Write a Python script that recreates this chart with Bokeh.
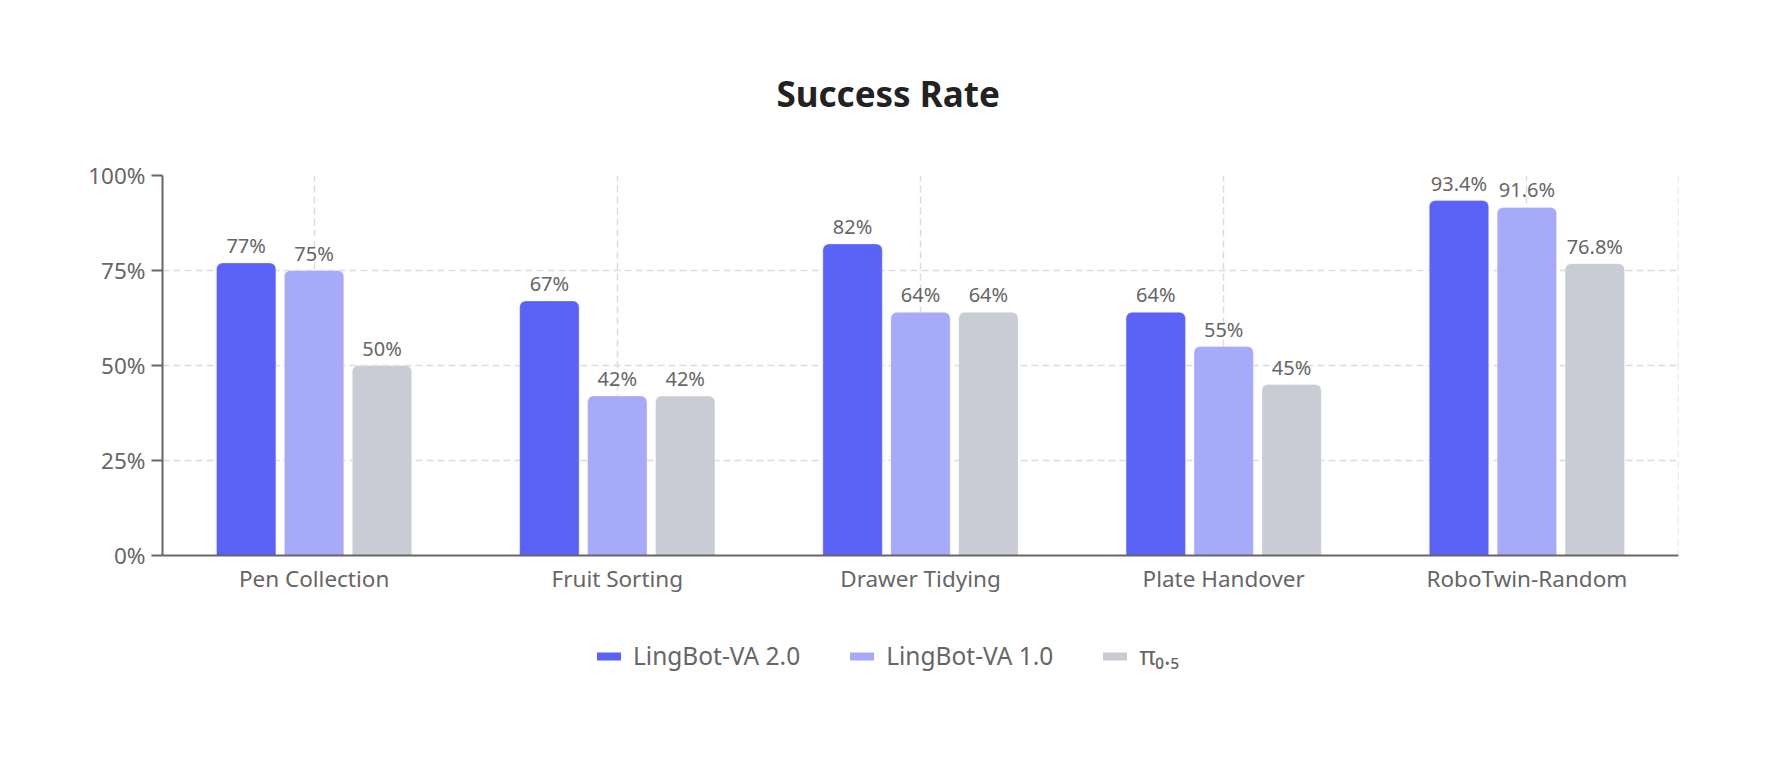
from bokeh.plotting import figure
from bokeh.layouts import column
from bokeh.models import (ColumnDataSource, FactorRange, Range1d, FixedTicker,
                          PrintfTickFormatter, LabelSet, Legend, LegendItem, Span, Title)
from bokeh.core.properties import value
from bokeh.transform import dodge
from bokeh.embed import file_html
from bokeh.resources import INLINE

categories = ["Pen Collection", "Fruit Sorting", "Drawer Tidying", "Plate Handover", "RoboTwin-Random"]
va2 = [77, 67, 82, 64, 93.4]
va1 = [75, 42, 64, 55, 91.6]
pi05 = [50, 42, 64, 45, 76.8]
series_names = ["LingBot-VA 2.0", "LingBot-VA 1.0", "π₀.₅"]
y_ticks = [0, 25, 50, 75, 100]

colors = ["#5A62F7", "#A6AAF9", "#C9CCD5"]
offsets = [-0.224, 0.0, 0.224]
FONT = "Noto Sans"

p = figure(x_range=FactorRange(*categories, range_padding=0), y_range=Range1d(0, 100),
           width=1780, height=600, output_backend="svg", toolbar_location=None,
           min_border_left=162, min_border_right=102, min_border_top=175, min_border_bottom=45)
p.outline_line_color = None
p.background_fill_color = "white"

src = ColumnDataSource(dict(cat=categories, v0=va2, v1=va1, v2=pi05,
                            l0=[f"{v:g}%" for v in va2],
                            l1=[f"{v:g}%" for v in va1],
                            l2=[f"{v:g}%" for v in pi05]))

for i in range(3):
    p.vbar(x=dodge("cat", offsets[i], range=p.x_range), top=f"v{i}", width=0.196,
           source=src, fill_color=colors[i], line_color="white", line_alpha=0.35,
           line_width=1, border_radius=(6, 6, 0, 0))
    p.add_layout(LabelSet(x=dodge("cat", offsets[i], range=p.x_range), y=f"v{i}",
                          text=f"l{i}", source=src, y_offset=10, text_align="center",
                          text_baseline="alphabetic", text_font=value(FONT),
                          text_font_size="20px", text_color="#666666"))

# right-edge dashed border
p.add_layout(Span(location=5, dimension="height", line_color="#dcdcdc",
                  line_dash="7 4", line_width=1.5))

# grids
for g in (p.xgrid, p.ygrid):
    g.grid_line_color = "#dcdcdc"
    g.grid_line_dash = "7 4"
    g.grid_line_width = 1.5
p.ygrid.ticker = FixedTicker(ticks=y_ticks)

# axes
p.yaxis.ticker = FixedTicker(ticks=y_ticks)
p.yaxis.formatter = PrintfTickFormatter(format="%d%%")
for ax in (p.xaxis[0], p.yaxis[0]):
    ax.axis_line_color = "#666666"
    ax.axis_line_width = 2
    ax.major_label_text_font = FONT
    ax.major_label_text_font_size = "22.5px"
    ax.major_label_text_color = "#666666"
    ax.minor_tick_line_color = None
p.yaxis.major_tick_line_color = "#666666"
p.yaxis.major_tick_line_width = 2
p.yaxis.major_tick_out = 11
p.yaxis.major_tick_in = 0
p.yaxis.major_label_standoff = 6
p.xaxis.major_tick_line_color = None
p.xaxis.major_tick_out = 0
p.xaxis.major_label_standoff = 7

# title
p.title = Title(text="Success Rate", align="left", offset=614, standoff=118,
                text_font=FONT, text_font_size="35px", text_font_style="bold",
                text_color="#222222")

# separate legend strip below the chart
lf = figure(width=1780, height=100, x_range=Range1d(0, 1), y_range=Range1d(0, 1),
            output_backend="svg", toolbar_location=None, min_border=0,
            x_axis_location=None, y_axis_location=None)
lf.outline_line_color = None
lf.xgrid.visible = False
lf.ygrid.visible = False
items = []
for i in range(3):
    r = lf.line(x=[-5, -4], y=[-5, -5], line_color=colors[i], line_width=8,
                line_cap="round", line_join="round")
    items.append(LegendItem(label=series_names[i], renderers=[r]))
leg = Legend(items=items, orientation="horizontal", location=(435, 28),
             glyph_width=24, glyph_height=30, label_height=30, label_standoff=12,
             spacing=50, padding=0, margin=0, border_line_color=None,
             background_fill_alpha=0, label_text_font=FONT, label_text_font_size="24.5px",
             label_text_color="#666666", label_text_baseline="middle")
lf.add_layout(leg, "center")

open("out.html", "w").write(file_html(column(p, lf, spacing=0), INLINE))
